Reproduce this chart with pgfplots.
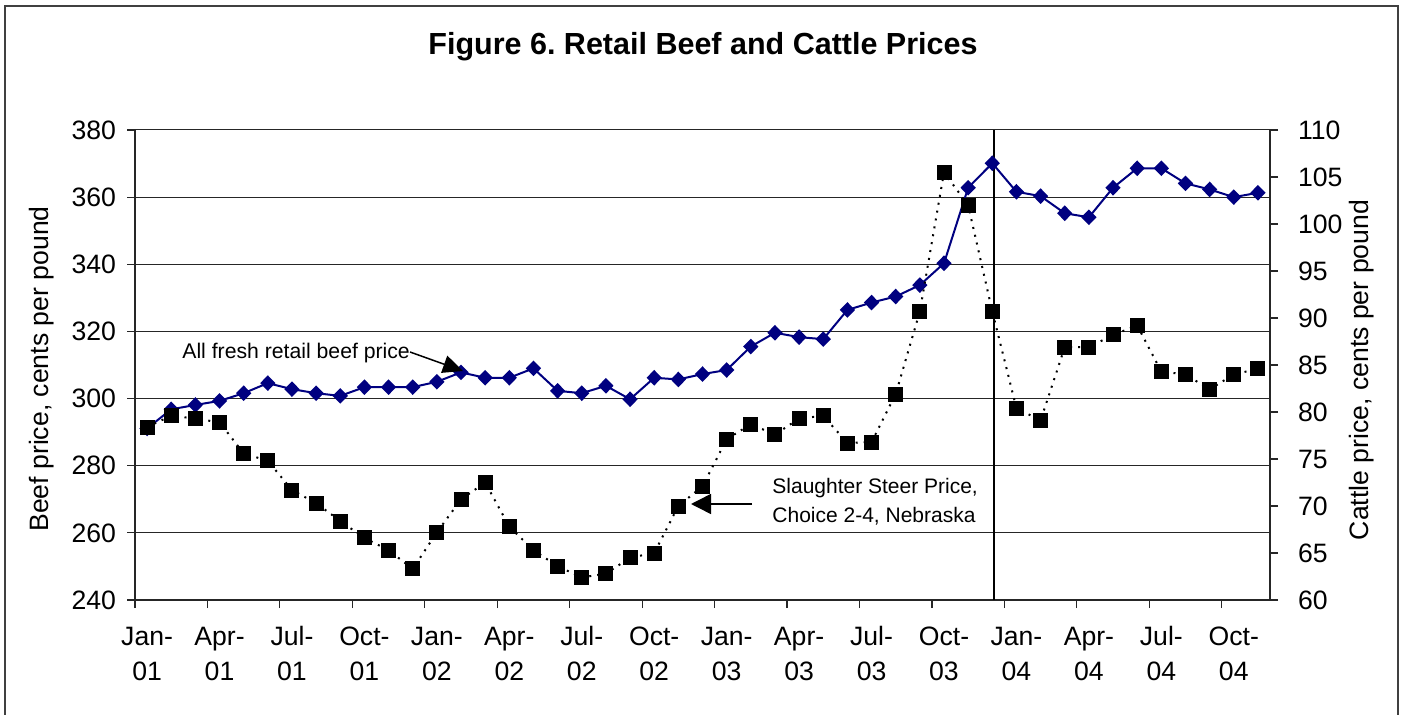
\documentclass[border=0pt]{standalone}
\usepackage{fontspec}
\setmainfont{Liberation Sans}
\usepackage{pgfplots}
\usepackage{pgfplotstable}
\pgfplotsset{compat=1.18}
\usetikzlibrary{arrows.meta}
\definecolor{beefblue}{RGB}{0,0,128}
\frenchspacing

\pgfplotstableread{
x beef
0 291.1
1 296.8
2 298.1
3 299.3
4 301.6
5 304.6
6 302.8
7 301.6
8 300.8
9 303.4
10 303.4
11 303.4
12 305.0
13 307.8
14 306.2
15 306.2
16 309.0
17 302.3
18 301.6
19 303.8
20 299.8
21 306.2
22 305.7
23 307.3
24 308.5
25 315.5
26 319.6
27 318.3
28 317.7
29 326.4
30 328.6
31 330.4
32 333.8
33 340.3
34 362.8
35 370.1
36 361.6
37 360.3
38 355.2
39 354.0
40 362.8
41 368.6
42 368.6
43 364.1
44 362.3
45 360.0
46 361.3
}\beeftable

\pgfplotstableread{
x cattle
0 78.4
1 79.6
2 79.3
3 78.9
4 75.6
5 74.8
6 71.7
7 70.3
8 68.4
9 66.6
10 65.3
11 63.3
12 67.2
13 70.7
14 72.5
15 67.8
16 65.3
17 63.6
18 62.4
19 62.8
20 64.5
21 65.0
22 70.0
23 72.1
24 77.1
25 78.7
26 77.6
27 79.3
28 79.6
29 76.7
30 76.8
31 81.9
32 90.7
33 105.5
34 102.0
35 90.7
36 80.4
37 79.1
38 86.9
39 86.9
40 88.2
41 89.2
42 84.3
43 84.0
44 82.4
45 84.0
46 84.6
}\cattletable

\newcommand{\tl}[2]{\strut #1\\\strut #2}

\begin{document}
\begin{tikzpicture}
\useasboundingbox (0pt,0pt) rectangle (703pt,-357.5pt);
\draw[black!75, line width=0.75pt] (2.5pt,-400pt) -- (2.5pt,-3pt) -- (699pt,-3pt) -- (699pt,-400pt);

\begin{axis}[
  at={(67.5pt,-300pt)}, anchor=south west,
  scale only axis, width=567.5pt, height=235pt,
  xmin=-0.5, xmax=46.5, ymin=240, ymax=380,
  axis x line*=bottom, axis y line*=left,
  tick align=outside, major tick length=4pt,
  ytick={240,260,...,380},
  ymajorgrids, grid style={black!85, line width=0.5pt},
  xtick={-0.5,2.5,...,44.5}, xticklabels={},
  extra x ticks={0,3,...,45},
  extra x tick labels={\tl{Jan-}{01},\tl{Apr-}{01},\tl{Jul-}{01},\tl{Oct-}{01},\tl{Jan-}{02},\tl{Apr-}{02},\tl{Jul-}{02},\tl{Oct-}{02},\tl{Jan-}{03},\tl{Apr-}{03},\tl{Jul-}{03},\tl{Oct-}{03},\tl{Jan-}{04},\tl{Apr-}{04},\tl{Jul-}{04},\tl{Oct-}{04}},
  extra x tick style={major tick length=0pt},
  x tick label style={font=\fontsize{13.3}{17.5}\selectfont, align=center, anchor=north, yshift=-6.8pt},
  y tick label style={font=\fontsize{13.3}{16}\selectfont, xshift=-2pt},
  /pgf/number format/assume math mode=true,
  axis line style={black!85, line width=0.75pt},
  tick style={black!85, line width=0.6pt},
  clip=false,
]
\addplot[beefblue, line width=1pt, mark=diamond*, mark size=3.2pt, mark options={xscale=1.3, solid, fill=beefblue}] table[x=x,y=beef]{\beeftable};
\draw[black, line width=1pt] (axis cs:35.05,240) -- (axis cs:35.05,380);
\end{axis}

\begin{axis}[
  at={(67.5pt,-300pt)}, anchor=south west,
  scale only axis, width=567.5pt, height=235pt,
  xmin=-0.5, xmax=46.5, ymin=60, ymax=110,
  axis y line*=right, axis x line=none,
  tick align=outside, major tick length=4pt,
  ytick={60,65,...,110},
  y tick label style={font=\fontsize{13.3}{16}\selectfont, xshift=6.5pt},
  /pgf/number format/assume math mode=true,
  axis line style={black!85, line width=0.75pt},
  tick style={black!85, line width=0.6pt},
  clip=false,
]
\addplot[black, line width=1pt, dash pattern=on 1pt off 3pt, mark=square*, mark size=3.25pt, mark options={solid, fill=black}] table[x=x,y=cattle]{\cattletable};
\end{axis}

\node[anchor=base, font=\bfseries\fontsize{15.25}{18}\selectfont] at (351.5pt,-27.5pt) {Figure 6. Retail Beef and Cattle Prices};
\node[rotate=90, font=\fontsize{13.3}{16}\selectfont] at (21pt,-184.5pt) {Beef price, cents per pound};
\node[rotate=90, font=\fontsize{13.3}{16}\selectfont] at (681pt,-185pt) {Cattle price, cents per pound};
\node[anchor=west, font=\fontsize{10.6}{13}\selectfont, inner sep=0pt] at (91pt,-176.5pt) {All fresh retail beef price};
\draw[-{Triangle[length=10pt,width=9pt]}, line width=0.75pt] (205pt,-176pt) -- (231.5pt,-185.5pt);
\node[anchor=west, align=left, font=\fontsize{10.5}{14.5}\selectfont, inner sep=0pt] at (386pt,-250.75pt) {Slaughter Steer Price,\\Choice 2-4, Nebraska};
\draw[-{Triangle[length=10pt,width=10pt]}, line width=0.75pt] (376pt,-252pt) -- (345.5pt,-252pt);
\end{tikzpicture}
\end{document}
